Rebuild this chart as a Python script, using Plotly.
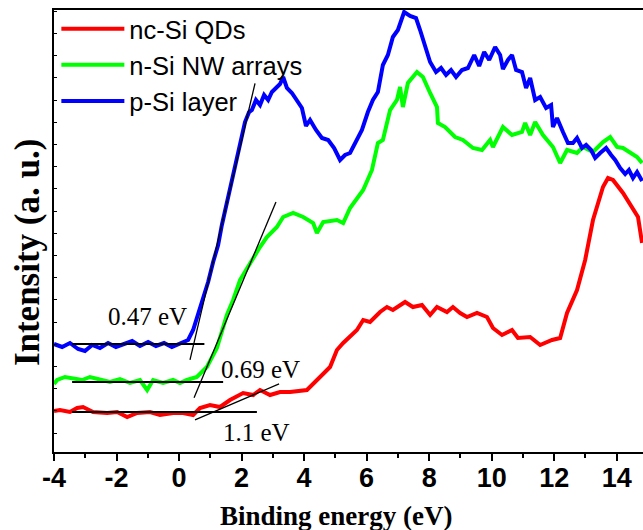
import numpy as np
import plotly.graph_objects as go

# Binding energy (eV) / intensity (a. u.) for each sample
qd_x = [-4.00, -3.81, -3.49, -3.26, -3.07, -2.75, -2.30, -1.98, -1.66, -1.34, -0.93, -0.61,
        -0.19, 0.13, 0.45, 0.67, 0.99, 1.31, 1.63, 2.05, 2.37, 2.59, 2.91, 3.23, 3.55, 4.09,
        4.51, 4.83, 5.05, 5.25, 5.69, 5.89, 6.11, 6.43, 6.65, 6.84, 7.23, 7.48, 7.77, 8.03,
        8.25, 8.57, 8.76, 8.99, 9.21, 9.53, 9.85, 10.04, 10.33, 10.65, 10.84, 11.23, 11.55,
        11.93, 12.19, 12.41, 12.73, 12.99, 13.24, 13.56, 13.72, 13.88, 14.20, 14.49, 14.68, 14.81]
qd_y = [41, 42, 40, 44, 45, 40, 39, 40, 35, 39, 40, 37,
        39, 39, 37, 44, 47, 45, 52, 59, 57, 62, 57, 60, 60, 62,
        75, 85, 102, 109, 122, 132, 130, 140, 145, 142, 150, 145, 147, 137,
        145, 140, 145, 139, 135, 139, 135, 124, 117, 122, 114, 115, 107,
        112, 114, 139, 162, 192, 232, 265, 274, 272, 259, 245, 235, 209]

nw_x = [-4.00, -3.90, -3.65, -3.39, -3.10, -2.85, -2.53, -2.21, -1.89, -1.57, -1.25, -1.02,
        -0.83, -0.51, -0.19, 0.03, 0.25, 0.57, 0.89, 1.21, 1.53, 1.73, 1.95, 2.27, 2.59, 2.81,
        3.13, 3.33, 3.65, 3.97, 4.29, 4.41, 4.61, 5.05, 5.25, 5.47, 5.89, 6.17, 6.36, 6.52,
        6.75, 6.97, 7.07, 7.16, 7.32, 7.61, 7.80, 8.03, 8.25, 8.28, 8.51, 8.83, 9.08, 9.40,
        9.69, 9.95, 10.04, 10.36, 10.65, 10.97, 11.07, 11.23, 11.39, 11.64, 11.96, 12.19,
        12.41, 12.73, 12.92, 13.24, 13.56, 13.79, 14.01, 14.20, 14.43, 14.65, 14.81]
nw_y = [68, 72, 75, 74, 72, 75, 72, 70, 73, 69, 72, 62,
        72, 69, 72, 69, 72, 75, 85, 104, 137, 152, 172, 189, 205, 215,
        225, 235, 239, 235, 229, 219, 230, 232, 229, 244, 262, 282, 309, 312,
        342, 352, 365, 345, 369, 380, 375, 359, 345, 329, 325, 315, 312, 304,
        302, 312, 305, 325, 317, 320, 329, 317, 330, 317, 305, 289,
        302, 299, 305, 300, 310, 315, 305, 304, 299, 295, 289]

ps_x = [-4.00, -3.74, -3.49, -3.23, -3.01, -2.78, -2.53, -2.27, -2.02, -1.76, -1.50, -1.25,
        -0.99, -0.74, -0.48, -0.23, 0.03, 0.29, 0.45, 0.61, 0.77, 0.93, 1.09, 1.25, 1.37,
        1.53, 1.69, 1.85, 1.98, 2.11, 2.24, 2.33, 2.46, 2.59, 2.72, 2.85, 2.97, 3.10, 3.23,
        3.33, 3.45, 3.61, 3.77, 3.93, 4.06, 4.19, 4.38, 4.57, 4.77, 4.96, 5.15, 5.31, 5.47,
        5.66, 5.85, 6.04, 6.20, 6.36, 6.52, 6.68, 6.84, 7.00, 7.20, 7.39, 7.58, 7.71, 7.84,
        8.03, 8.22, 8.38, 8.54, 8.70, 8.86, 9.05, 9.24, 9.44, 9.60, 9.76, 9.92, 10.11, 10.27,
        10.36, 10.52, 10.65, 10.78, 10.97, 11.10, 11.23, 11.39, 11.55, 11.74, 11.90, 11.96,
        12.09, 12.28, 12.44, 12.60, 12.73, 12.89, 13.02, 13.18, 13.31, 13.47, 13.66, 13.82,
        13.95, 14.11, 14.27, 14.39, 14.52, 14.65, 14.81]
ps_y = [108, 105, 109, 103, 101, 107, 104, 109, 105, 108, 111, 106,
        110, 106, 109, 105, 108, 112, 122, 137, 154, 170, 190, 207, 227,
        249, 269, 292, 312, 330, 340, 342, 352, 347, 357, 352, 360, 364, 368,
        375, 364, 359, 352, 344, 326, 332, 322, 314, 312, 304, 292, 297, 299,
        310, 322, 340, 352, 360, 387, 397, 415, 422, 440, 436, 434, 422, 410,
        390, 380, 384, 377, 382, 375, 382, 384, 397, 386, 400, 392, 405, 397,
        383, 392, 397, 382, 380, 364, 374, 352, 355, 344, 347, 325,
        334, 320, 309, 309, 314, 304, 307, 302, 294, 299, 304, 297,
        292, 284, 278, 282, 274, 280, 271]

series_names = ["nc-Si QDs", "n-Si NW arrays", "p-Si layer"]
series_colors = ["#ff0000", "#00ff00", "#0000ff"]

x_tick_vals = [-4, -2, 0, 2, 4, 6, 8, 10, 12, 14]
x_tick_text = ["-4", "-2", "0", "2", "4", "6", "8", "10", "12", "14"]

# Band-edge extrapolation: onset energy, baseline level, leading-edge slope
onset_ev = [1.1, 0.69, 0.47]
onset_labels = ["1.1 eV", "0.69 eV", "0.47 eV"]
base_level = [40, 70, 108]
edge_slope = [13.4, 74.7, 133.0]
edge_span = [(0.51, 3.20), (0.48, 3.10), (0.35, 2.43)]
base_span = [(-3.42, 2.49), (-3.42, 1.41), (-3.42, 0.81)]
label_pos = [(2.49, 20), (2.59, 83), (-1.02, 136)]

fig = go.Figure()

for xs, ys, name, color in zip([qd_x, nw_x, ps_x], [qd_y, nw_y, ps_y], series_names, series_colors):
    fig.add_trace(go.Scatter(x=xs, y=ys, mode="lines", name=name,
                             line=dict(color=color, width=4)))

for e0, b0, k, (t0, t1), (h0, h1), lab, (lx, ly) in zip(
        onset_ev, base_level, edge_slope, edge_span, base_span, onset_labels, label_pos):
    tx = np.array([t0, t1])
    fig.add_trace(go.Scatter(x=tx, y=b0 + k * (tx - e0), mode="lines", showlegend=False,
                             line=dict(color="black", width=1.3), hoverinfo="skip"))
    fig.add_trace(go.Scatter(x=[h0, h1], y=[b0, b0], mode="lines", showlegend=False,
                             line=dict(color="black", width=1.8), hoverinfo="skip"))
    fig.add_annotation(x=lx, y=ly, text=lab, showarrow=False,
                       font=dict(family="Liberation Serif", size=25, color="black"))

# Axis titles as annotations so they can sit exactly where wanted
title_font = dict(family="Liberation Serif", color="black", weight="bold")
fig.add_annotation(x=-0.046, y=0.452, xref="paper", yref="paper", text="Intensity (a. u.)",
                   textangle=-90, showarrow=False, xanchor="center", yanchor="middle",
                   font=dict(size=35, **title_font))
fig.add_annotation(x=0.479, y=-0.145, xref="paper", yref="paper", text="Binding energy (eV)",
                   showarrow=False, xanchor="center", yanchor="middle",
                   font=dict(size=27, **title_font))

fig.update_layout(
    width=643, height=530,
    margin=dict(l=54, r=0, t=10, b=78),
    plot_bgcolor="white", paper_bgcolor="white",
    showlegend=True,
    legend=dict(x=0.004, y=1.01, xanchor="left", yanchor="top",
                bgcolor="rgba(0,0,0,0)", borderwidth=0,
                font=dict(family="Liberation Sans", size=25.5, color="black"),
                itemwidth=63, tracegroupgap=0),
)

fig.update_xaxes(
    range=[-4, 14.84], tickvals=x_tick_vals, ticktext=x_tick_text,
    ticks="outside", ticklen=7, tickwidth=1.5, tickcolor="black",
    minor=dict(dtick=1, tick0=-4, ticks="outside", ticklen=4, tickwidth=1.5, tickcolor="black"),
    showline=True, linecolor="black", linewidth=2, mirror=True,
    showgrid=False, zeroline=False, ticklabelstandoff=-6,
    tickfont=dict(family="Liberation Sans", size=27, color="black", weight="bold"),
)
fig.update_yaxes(
    range=[0, 442], showticklabels=False,
    ticks="inside", ticklen=3, tickwidth=1, tickcolor="black", tick0=19, dtick=22.2,
    showline=True, linecolor="black", linewidth=2, mirror=False,
    showgrid=False, zeroline=False,
)

fig.write_html("out.html")
